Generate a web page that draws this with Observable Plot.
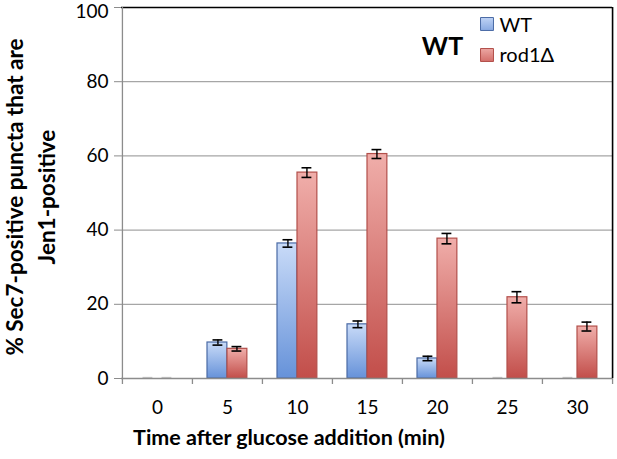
<!DOCTYPE html>
<html>
<head>
<meta charset="utf-8">
<script src="https://cdn.jsdelivr.net/npm/d3@7"></script>
<script src="https://cdn.jsdelivr.net/npm/@observablehq/plot@0.6"></script>
<style>
  html, body { margin: 0; padding: 0; background: #fff; }
  #chart { width: 617px; height: 459px; }
</style>
</head>
<body>
<div id="chart"></div>
<script>
// ---- data ----
const times = ["0", "5", "10", "15", "20", "25", "30"];
const wtValues = [0, 9.7, 36.4, 14.6, 5.4, 0, 0];
const wtErrors = [0, 0.7, 1.0, 0.9, 0.6, 0, 0];
const rodValues = [0, 8.0, 55.5, 60.5, 37.7, 21.9, 14.0];
const rodErrors = [0, 0.6, 1.3, 1.2, 1.4, 1.5, 1.2];
const yTicks = [0, 20, 40, 60, 80];
const yTopTick = [100];
const gridTicks = [20, 40, 60, 80];
const seriesNames = ["WT", "rod1Δ"];

const W = 617, H = 459;
const mL = 121, mR = 5, mT = 7, mB = 81;
const bw = (W - mL - mR) / times.length;

const wtRows = times.map((t, i) => ({t, v: wtValues[i], e: wtErrors[i]}));
const rodRows = times.map((t, i) => ({t, v: rodValues[i], e: rodErrors[i]}));
const wtErr = wtRows.filter(d => d.e > 0);
const rodErr = rodRows.filter(d => d.e > 0);

const font = "Lato, 'Open Sans', sans-serif";
const wtOffset = 25.5 - bw / 2;   // center of WT bar relative to band center
const rodOffset = 44.5 - bw / 2;  // center of rod1Δ bar

const chart = Plot.plot({
  width: W,
  height: H,
  marginLeft: mL,
  marginRight: mR,
  marginTop: mT,
  marginBottom: mB,
  style: {fontFamily: font, background: "#fff", overflow: "visible"},
  x: {type: "band", domain: times, padding: 0, axis: null, label: null},
  y: {domain: [0, 100], axis: null, label: null},
  marks: [
    // gridlines
    Plot.ruleY(gridTicks, {stroke: "#a6a6a6", strokeWidth: 1.3}),
    // top border
    Plot.ruleY([100], {stroke: "#000", strokeWidth: 1.6}),
    // bars
    Plot.barY(wtRows, {x: "t", y: "v", fill: "url(#gBlue)", stroke: "#4a6aa5", strokeWidth: 1.2,
      insetLeft: 15, insetRight: bw - 35}),
    Plot.barY(rodRows, {x: "t", y: "v", fill: "url(#gRed)", stroke: "#b24f4a", strokeWidth: 1.2,
      insetLeft: 35, insetRight: bw - 55}),
    // error bars
    Plot.ruleX(wtErr, {x: "t", y1: d => d.v - d.e, y2: d => d.v + d.e, dx: wtOffset, stroke: "#000", strokeWidth: 1.4}),
    Plot.tickY(wtErr, {x: "t", y: d => d.v + d.e, dx: wtOffset, stroke: "#000", strokeWidth: 1.6, insetLeft: bw/2 - 5, insetRight: bw/2 - 5}),
    Plot.tickY(wtErr, {x: "t", y: d => d.v - d.e, dx: wtOffset, stroke: "#000", strokeWidth: 1.6, insetLeft: bw/2 - 5, insetRight: bw/2 - 5}),
    Plot.ruleX(rodErr, {x: "t", y1: d => d.v - d.e, y2: d => d.v + d.e, dx: rodOffset, stroke: "#000", strokeWidth: 1.4}),
    Plot.tickY(rodErr, {x: "t", y: d => d.v + d.e, dx: rodOffset, stroke: "#000", strokeWidth: 1.6, insetLeft: bw/2 - 5, insetRight: bw/2 - 5}),
    Plot.tickY(rodErr, {x: "t", y: d => d.v - d.e, dx: rodOffset, stroke: "#000", strokeWidth: 1.6, insetLeft: bw/2 - 5, insetRight: bw/2 - 5}),
    // zero-value markers
    Plot.tickY(wtRows.filter(d => d.v === 0), {x: "t", y: 0, dx: wtOffset, dy: -1, stroke: "#c8c8c8", strokeWidth: 1.3, insetLeft: bw/2 - 5, insetRight: bw/2 - 5}),
    Plot.tickY(rodRows.filter(d => d.v === 0), {x: "t", y: 0, dx: rodOffset, dy: -1, stroke: "#c8c8c8", strokeWidth: 1.3, insetLeft: bw/2 - 5, insetRight: bw/2 - 5}),
    // x axis line and boundary ticks
    Plot.ruleY([0], {stroke: "#8c8c8c", strokeWidth: 1.3}),
    Plot.ruleX(times, {x: d => d, dx: -bw / 2, y1: 0, y2: 0, insetBottom: -6, stroke: "#8c8c8c", strokeWidth: 1.3}),
    Plot.ruleX([times[times.length - 1]], {x: d => d, dx: bw / 2, y1: 0, y2: 0, insetBottom: -6, stroke: "#8c8c8c", strokeWidth: 1.3}),
    // left axis line (gray) and right border (black)
    Plot.ruleX([times[0]], {x: d => d, dx: -bw / 2, y1: 0, y2: 100, stroke: "#8c8c8c", strokeWidth: 1.3}),
    Plot.ruleX([times[times.length - 1]], {x: d => d, dx: bw / 2, y1: 0, y2: 100, stroke: "#000", strokeWidth: 1.6}),
    // axes
    Plot.axisY({ticks: yTicks, label: null, tickSize: 7, tickPadding: 6, stroke: "#8c8c8c", fontSize: 19, fill: "#000", tickFormat: d => String(d)}),
    Plot.axisY({ticks: yTopTick, label: null, tickSize: 7, tickPadding: 6, stroke: "#8c8c8c", fontSize: 19, fill: "#000", tickFormat: d => String(d), text: null}),
    Plot.text(yTopTick, {y: d => d, frameAnchor: "left", dx: -13, dy: 4, textAnchor: "end", lineAnchor: "middle", fontSize: 19, fill: "#000", text: d => String(d)}),
    Plot.axisX({label: null, tickSize: 0, tickPadding: 22, fontSize: 19, fill: "#000"}),
    // axis titles
    Plot.text(["% Sec7-positive puncta that are\nJen1-positive"], {
      frameAnchor: "left", rotate: -90, dx: -93, dy: 4, fontSize: 22.5, fontWeight: "bold",
      textAnchor: "middle", lineAnchor: "middle",
      lineHeight: 1.43, fill: "#000", text: d => d
    }),
    Plot.text(["Time after glucose addition (min)"], {
      frameAnchor: "bottom", dx: -78, dy: 60, fontSize: 21.5, fontWeight: "bold", fill: "#000",
      textAnchor: "middle", lineAnchor: "middle", text: d => d
    }),
    // panel label
    Plot.text(["WT"], {frameAnchor: "top-left", dx: 321, dy: 39, fontSize: 25, fontWeight: "bold", fill: "#000", text: d => d, textAnchor: "middle", lineAnchor: "middle"}),
    // legend
    Plot.dot([seriesNames[0]], {frameAnchor: "top-left", dx: 365.5, dy: 16.5, symbol: "square", r: 7.3, fill: "url(#gBlueL)", stroke: "#4a6aa5", strokeWidth: 1}),
    Plot.dot([seriesNames[1]], {frameAnchor: "top-left", dx: 365.5, dy: 47.5, symbol: "square", r: 7.3, fill: "url(#gRedL)", stroke: "#b24f4a", strokeWidth: 1}),
    Plot.text([seriesNames[0]], {frameAnchor: "top-left", dx: 378, dy: 18, textAnchor: "start", lineAnchor: "middle", fontSize: 20, fill: "#000", text: d => d}),
    Plot.text([seriesNames[1]], {frameAnchor: "top-left", dx: 378, dy: 48, textAnchor: "start", lineAnchor: "middle", fontSize: 20, fill: "#000", text: d => d})
  ]
});

// gradient definitions
const ns = "http://www.w3.org/2000/svg";
const defs = document.createElementNS(ns, "defs");
function grad(id, top, bottom) {
  const g = document.createElementNS(ns, "linearGradient");
  g.setAttribute("id", id);
  g.setAttribute("x1", "0"); g.setAttribute("y1", "0");
  g.setAttribute("x2", "0"); g.setAttribute("y2", "1");
  [[0, top], [1, bottom]].forEach(([o, c]) => {
    const s = document.createElementNS(ns, "stop");
    s.setAttribute("offset", o);
    s.setAttribute("stop-color", c);
    g.appendChild(s);
  });
  defs.appendChild(g);
}
grad("gBlue", "#c9dbf8", "#6692d9");
grad("gRed", "#f0aeaa", "#c24e4a");
grad("gBlueL", "#bfd3f5", "#88a9e2");
grad("gRedL", "#eca7a3", "#d36e6a");
chart.insertBefore(defs, chart.firstChild);

document.getElementById("chart").appendChild(chart);
</script>
</body>
</html>
